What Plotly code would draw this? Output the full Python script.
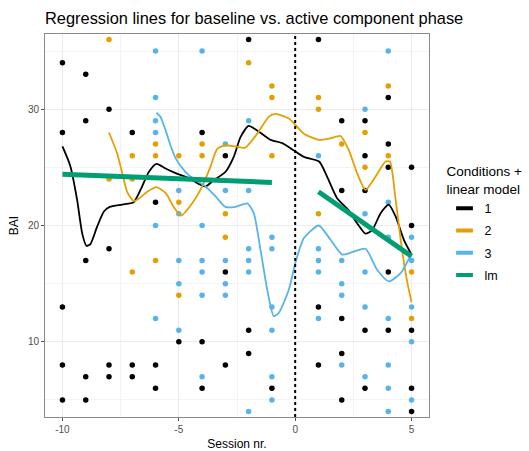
import plotly.graph_objects as go

# ---------------- data ----------------
sessions = [-10, -9, -8, -7, -6, -5, -4, -3, -2, -1, 1, 2, 3, 4, 5]

bai_cond1 = [
    [34, 28, 13, 8, 5], [33, 29, 17, 7, 5], [30, 18, 8, 7], [28, 8, 7],
    [22, 8, 6], [10], [28, 10, 6], [26, 16, 8], [36, 11, 9], [6],
    [36, 13, 8], [29, 23, 12, 9, 5], [29, 26, 23, 11, 6],
    [31, 27, 25, 16, 11], [25, 20, 11, 6, 4],
]
bai_cond2 = [
    [], [], [36, 24], [26, 24, 16], [27, 26, 17], [26, 22, 14], [27, 26],
    [21, 19], [34], [32, 31, 26], [31, 30, 21], [27], [28, 25], [32, 26],
    [16, 12],
]
bai_cond3 = [
    [], [], [], [], [35, 31, 29, 28, 20, 12], [23, 21, 17, 15, 11],
    [35, 20, 17, 16, 14, 7], [27, 23, 17, 15, 14], [29, 23, 18, 17, 16, 4],
    [19, 18, 13, 11, 7, 5], [26, 18, 17, 16, 12], [17, 15, 14, 8],
    [30, 21, 16, 13, 7], [35, 22, 19, 12, 8, 6, 4], [19, 17, 13, 10, 5],
]

# smoothed curves per condition
smooth1_x = [-10, -9.66, -9.37, -9.15, -8.97, -8.8, -8.51, -8.22, -7.97, -7.43,
             -6.94, -6.58, -6.29, -5.96, -5.57, -5.14, -4.57, -4.07, -3.85, -3.5,
             -3.0, -2.64, -2.35, -2.0, -1.56, -1.06, -0.56, -0.2, 0.37, 1.03,
             1.37, 1.8, 2.3, 2.66, 3.02, 3.31, 3.67, 4.02, 4.31, 4.67, 5.0]
smooth1_y = [26.8, 25.1, 22.2, 19.3, 18.25, 18.4, 19.9, 21.2, 21.6, 21.8,
             22.0, 23.35, 24.6, 25.3, 24.9, 24.5, 24.07, 23.5, 23.35, 23.9,
             24.6, 25.9, 27.6, 28.56, 28.07, 27.36, 27.08, 26.65, 25.9, 25.5,
             24.2, 22.35, 21.3, 20.2, 19.3, 19.6, 21.06, 21.8, 20.8, 18.77, 17.5]

smooth2_x = [-8.0, -7.65, -7.43, -7.22, -6.94, -6.72, -6.36, -5.96, -5.57, -5.22,
             -4.9, -4.43, -4.0, -3.64, -3.35, -3.0, -2.57, -2.14, -1.63, -1.13,
             -0.85, -0.27, 0.37, 1.03, 1.52, 1.95, 2.3, 2.66, 3.02, 3.45,
             3.88, 4.07, 4.3, 4.55, 4.8, 5.0]
smooth2_y = [28.0, 26.2, 24.5, 22.9, 22.1, 22.3, 22.9, 23.3, 22.8, 21.6,
             20.85, 21.9, 23.35, 25.07, 26.6, 26.9, 26.8, 26.7, 27.9, 29.36,
             29.6, 29.2, 27.9, 27.36, 27.5, 27.7, 26.5, 24.5, 23.06, 24.2,
             25.5, 25.5, 22.5, 18.5, 15.3, 13.4]

smooth3_x = [-5.96, -5.79, -5.57, -5.36, -5.14, -4.71, -4.28, -3.85, -3.42, -3.0,
             -2.57, -2.06, -1.78, -1.49, -1.2, -0.92, -0.7, -0.27, 0.01, 0.37,
             1.01, 1.52, 2.02, 2.52, 3.02, 3.52, 4.02, 4.53, 5.0]
smooth3_y = [29.7, 29.36, 28.2, 26.9, 25.8, 24.6, 23.9, 23.35, 22.5, 21.6,
             21.6, 21.9, 21.06, 17.9, 14.47, 12.2, 12.5, 14.5, 16.8, 18.9,
             20.0, 18.77, 17.5, 17.76, 18.0, 16.2, 15.2, 15.9, 17.6]

# linear model lines (baseline / active phase)
lm_base_x = [-10, -1]
lm_base_y = [24.4, 23.7]
lm_active_x = [1, 5]
lm_active_y = [22.9, 17.35]

condition_names = ["1", "2", "3"]
colors = ["#000000", "#E69F00", "#56B4E9"]
lm_color = "#009E73"
x_ticks = [-10, -5, 0, 5]
y_ticks = [10, 20, 30]


def expand(sess, vals):
    xs, ys = [], []
    for s, v in zip(sess, vals):
        for b in v:
            xs.append(s)
            ys.append(b)
    return xs, ys


fig = go.Figure()

# points
for vals, col in zip([bai_cond1, bai_cond2, bai_cond3], colors):
    xs, ys = expand(sessions, vals)
    fig.add_trace(go.Scatter(x=xs, y=ys, mode="markers",
                             marker=dict(color=col, size=5.5, line=dict(width=0)),
                             showlegend=False, hoverinfo="x+y"))

# smooth curves
for sx, sy, col in zip([smooth1_x, smooth2_x, smooth3_x],
                       [smooth1_y, smooth2_y, smooth3_y], colors):
    fig.add_trace(go.Scatter(x=sx, y=sy, mode="lines",
                             line=dict(color=col, width=1.8, shape="spline", smoothing=0.6),
                             showlegend=False))

# lm lines
for lx, ly in [(lm_base_x, lm_base_y), (lm_active_x, lm_active_y)]:
    fig.add_trace(go.Scatter(x=lx, y=ly, mode="lines",
                             line=dict(color=lm_color, width=5),
                             showlegend=False))

# legend entries (short thick bar keys)
for name, col in zip(condition_names + ["lm"], colors + [lm_color]):
    fig.add_trace(go.Scatter(x=[None], y=[None], mode="markers", name=name,
                             legendgroup=name,
                             marker=dict(symbol="line-ew", size=12, color=col,
                                         line=dict(color=col, width=4))))

# dotted vertical line at the phase change
fig.add_vline(x=0, line=dict(color="black", width=2, dash="dot"))

grid_col = "#EBEBEB"
fig.update_layout(
    width=529, height=451,
    margin=dict(l=45, r=100, t=34, b=34, autoexpand=False),
    paper_bgcolor="white", plot_bgcolor="white",
    font=dict(family="Liberation Sans, Arial, sans-serif", color="#000000"),
    title=dict(text="Regression lines for baseline vs. active component phase",
               x=0, xref="paper", xanchor="left",
               y=1 - 18 / 451, yref="container", yanchor="middle",
               font=dict(size=16.4, color="#000000")),
    legend=dict(
        title=dict(text="Conditions +<br>linear model", font=dict(size=13.5)),
        x=1.0404, xanchor="left", y=0.675, yanchor="top",
        font=dict(size=12.5), traceorder="grouped", tracegroupgap=3,
        bgcolor="rgba(0,0,0,0)",
    ),
    showlegend=True,
)

fig.update_xaxes(
    automargin=False,
    range=[-10.75, 5.75], tickvals=x_ticks, ticktext=[str(t) for t in x_ticks],
    showgrid=True, gridcolor=grid_col, gridwidth=1,
    minor=dict(tickvals=[-7.5, -2.5, 2.5], showgrid=True, gridcolor="#F3F3F3", gridwidth=0.6, ticks=""),
    zeroline=False, showline=True, linecolor="#8A8A8A", linewidth=1, mirror=True,
    ticks="outside", ticklen=3, tickcolor="#555555",
    tickfont=dict(size=10, color="#4D4D4D"),
    title=dict(text="Session nr.", font=dict(size=12), standoff=6),
)
fig.update_yaxes(
    automargin=False,
    range=[3.53, 36.47], tickvals=y_ticks, ticktext=[str(t) for t in y_ticks],
    showgrid=True, gridcolor=grid_col, gridwidth=1,
    minor=dict(tickvals=[5, 15, 25, 35], showgrid=True, gridcolor="#F3F3F3", gridwidth=0.6, ticks=""),
    zeroline=False, showline=True, linecolor="#8A8A8A", linewidth=1, mirror=True,
    ticks="outside", ticklen=3, tickcolor="#555555",
    tickfont=dict(size=10, color="#4D4D4D"),
    title=dict(text="BAI", font=dict(size=12), standoff=6),
)

fig.write_html("out.html")
